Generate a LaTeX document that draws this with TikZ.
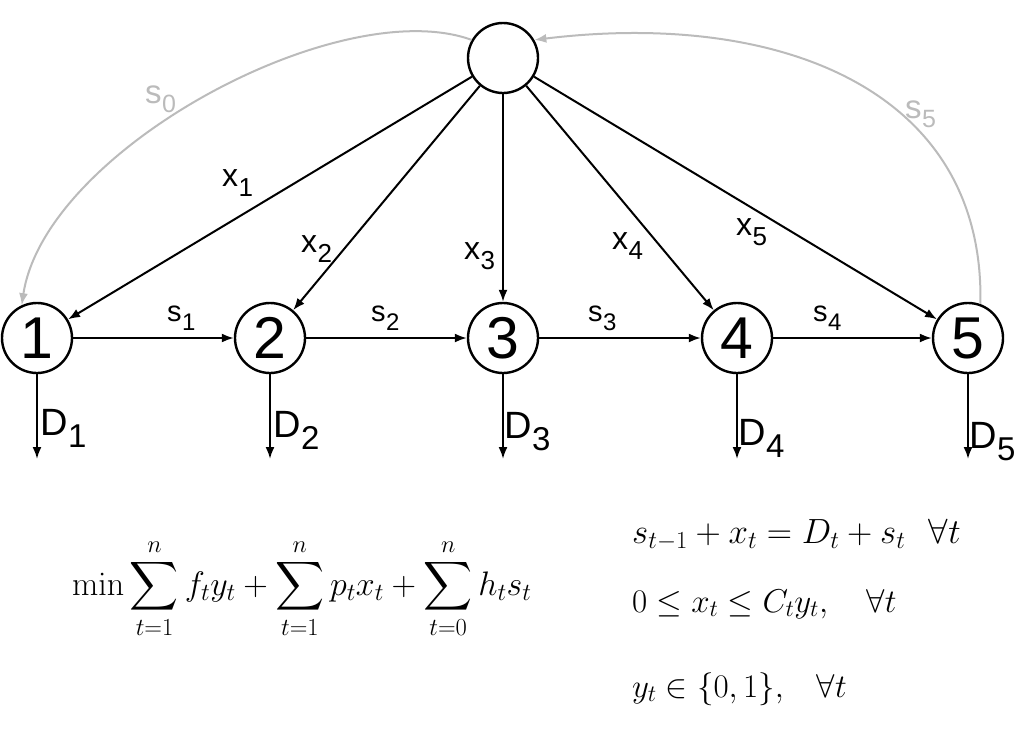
\RequirePackage{fix-cm}
\documentclass[tikz,border=0pt]{standalone}
\usepackage[no-math]{fontspec}
\DeclareFontShape{OMX}{cmex}{m}{n}{<->cmex10}{}
\DeclareMathSizes{33}{33}{23.5}{17}
\DeclareMathSizes{34}{34}{24.5}{17.5}
\DeclareMathSizes{35}{35}{24.5}{18}
\newfontfamily\labfont{Liberation Sans}
\usetikzlibrary{arrows.meta}
\newcommand\lsub[5]{{\fontsize{#3}{#3}\selectfont #1}\kern0.5pt\raisebox{-#5pt}{\fontsize{#4}{#4}\selectfont #2}}
\definecolor{backgray}{HTML}{BBBBBB}
\begin{document}
\begin{tikzpicture}[x=1pt,y=-1pt,
  st/.style={circle,draw,line width=2.4pt,minimum size=70pt,inner sep=0pt,font=\labfont\fontsize{59}{59}\selectfont},
  flow/.style={line width=2pt,-{Latex[length=12pt,width=9pt]}},
  back/.style={line width=2pt,draw=backgray,-{Latex[length=12pt,width=9pt]}},
  lab/.style={anchor=base west,inner sep=0pt,font=\labfont},
  glab/.style={lab,text=backgray},
  eq/.style={anchor=base west,inner sep=0pt,font=\fontsize{33}{40}\selectfont},
]
\useasboundingbox (0,0) rectangle (1016,731);
% nodes
\node[st] (top) at (503,58) {};
\node[st] (n1) at (37,338) {1};
\node[st] (n2) at (270,338) {2};
\node[st] (n3) at (503,338) {3};
\node[st] (n4) at (737,338) {4};
\node[st] (n5) at (968,338) {5};
% demand end points
\coordinate (d1) at (37,459);
\coordinate (d2) at (270,459);
\coordinate (d3) at (503,459);
\coordinate (d4) at (737,459);
\coordinate (d5) at (968,459);
% production arrows
\draw[flow] (top) -- (n1);
\draw[flow] (top) -- (n2);
\draw[flow] (top) -- (n3);
\draw[flow] (top) -- (n4);
\draw[flow] (top) -- (n5);
% inventory arrows
\draw[flow] (n1) -- (n2);
\draw[flow] (n2) -- (n3);
\draw[flow] (n3) -- (n4);
\draw[flow] (n4) -- (n5);
% demand arrows
\draw[flow] (n1.south) -- (d1);
\draw[flow] (n2.south) -- (d2);
\draw[flow] (n3.south) -- (d3);
\draw[flow] (n4.south) -- (d4);
\draw[flow] (n5.south) -- (d5);
% initial and final inventory
\draw[back] (top.150) .. controls (340,-8) and (45,150) .. (n1.115);
\draw[back] (n5.70) .. controls (985,90) and (780,10) .. (top.30);
% labels
\node[glab] (ls0) at (145,103) {\lsub{s}{0}{33}{25}{9}};
\node[glab] (ls5) at (905,118) {\lsub{s}{5}{33}{25}{9}};
\node[lab] (lx1) at (222,186) {\lsub{x}{1}{32}{26}{10}};
\node[lab] (lx2) at (301,252) {\lsub{x}{2}{32}{26}{10}};
\node[lab] (lx3) at (464,259) {\lsub{x}{3}{32}{26}{10}};
\node[lab] (lx4) at (612,249) {\lsub{x}{4}{32}{26}{10}};
\node[lab] (lx5) at (736,235) {\lsub{x}{5}{32}{26}{10}};
\node[lab] (ls1) at (167,321) {\lsub{s}{1}{29}{24}{9}};
\node[lab] (ls2) at (371,321) {\lsub{s}{2}{29}{24}{9}};
\node[lab] (ls3) at (588,321) {\lsub{s}{3}{29}{24}{9}};
\node[lab] (ls4) at (813,321) {\lsub{s}{4}{29}{24}{9}};
\node[lab] (ld1) at (40,435) {\lsub{D}{1}{38}{33}{12}};
\node[lab] (ld2) at (273,437) {\lsub{D}{2}{38}{33}{12}};
\node[lab] (ld3) at (504,438) {\lsub{D}{3}{38}{33}{12}};
\node[lab] (ld4) at (738,445) {\lsub{D}{4}{38}{33}{12}};
\node[lab] (ld5) at (969,448) {\lsub{D}{5}{38}{33}{12}};
% model
\node[eq,font=\fontsize{34}{40}\selectfont] (obj) at (72,595) {$\displaystyle \min \sum_{t=1}^{n} f_t y_t + \sum_{t=1}^{n} p_t x_t + \sum_{t=0}^{n} h_t s_t$};
\node[eq,font=\fontsize{35}{40}\selectfont] (c1) at (632,543) {$s_{t-1} + x_t = D_t + s_t \enspace\, \forall t$};
\node[eq] (c2) at (632,612) {$0 \le x_t \le C_t y_t, \quad \forall t$};
\node[eq] (c3) at (632,697) {$y_t \in \{0,1\}, \enspace\,\, \forall t$};
\end{tikzpicture}
\end{document}
